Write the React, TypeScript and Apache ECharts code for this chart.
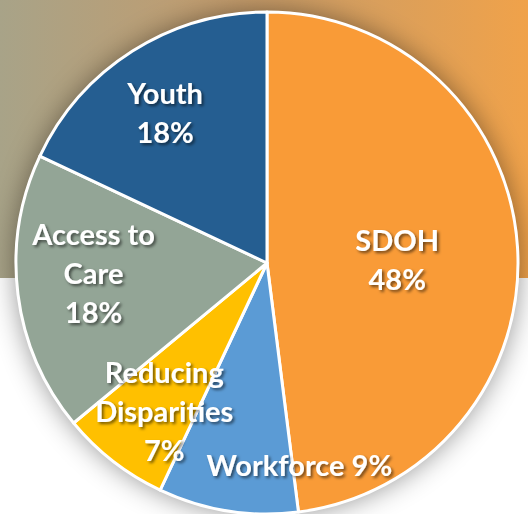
import React, { useEffect, useRef } from "react";
import * as echarts from "echarts";

const categories = ["SDOH", "Workforce", "Reducing\nDisparities", "Access to\nCare", "Youth"];
const values = [48, 9, 7, 18, 18];
const colors = ["#F99B37", "#5B9BD5", "#FFC000", "#93A596", "#255E91"];
const labelOffsets: [number, number][] = [
  [2, 4],
  [52, 78],
  [-24, 46],
  [-46, -7],
  [-33, -43],
];

export default function App() {
  const ref = useRef<HTMLDivElement>(null);
  useEffect(() => {
    if (!ref.current) return;
    const chart = echarts.init(ref.current, null, { renderer: "svg" });
    const cx = 267;
    const cy = 263;
    const r = 251;
    const textStyleBase = {
      fill: "#ffffff",
      fontFamily: "Lato",
      fontWeight: "bold",
      fontSize: 29,
      lineHeight: 39,
      textShadowColor: "rgba(0,0,0,0.55)",
      textShadowBlur: 3,
      textShadowOffsetX: 2,
      textShadowOffsetY: 2,
    };
    // Workforce label drawn as text, positioned from its slice's mid-angle
    let acc = 0;
    for (let i = 0; i < 1; i++) acc += values[i];
    const total = values.reduce((a, b) => a + b, 0);
    const mid = ((acc + values[1] / 2) / total) * Math.PI * 2;
    const wx = cx + (r / 2) * Math.sin(mid) + labelOffsets[1][0];
    const wy = cy - (r / 2) * Math.cos(mid) + labelOffsets[1][1];
    chart.setOption({
      animation: false,
      backgroundColor: "#ffffff",
      graphic: [
        {
          type: "rect",
          z: -10,
          silent: true,
          shape: { x: 0, y: 0, width: 528, height: 278 },
          style: {
            fill: new echarts.graphic.LinearGradient(0, 0, 1, 0, [
              { offset: 0, color: "#a8a388" },
              { offset: 0.45, color: "#c49c6c" },
              { offset: 1, color: "#f0a24a" },
            ]),
          },
        },
        {
          type: "text",
          z: 100,
          silent: true,
          x: wx,
          y: wy,
          style: {
            ...textStyleBase,
            text: categories[1] + " " + values[1] + "%",
            align: "center",
            verticalAlign: "middle",
          },
        },
      ],
      series: [
        {
          type: "pie",
          silent: true,
          z: 1,
          center: [cx, cy],
          radius: r,
          label: { show: false },
          labelLine: { show: false },
          itemStyle: {
            color: "#ffffff",
            shadowBlur: 28,
            shadowColor: "rgba(0,0,0,0.45)",
          },
          data: [{ value: 1, name: "bg" }],
        },
        {
          type: "pie",
          z: 2,
          center: [cx, cy],
          radius: r,
          startAngle: 90,
          clockwise: true,
          avoidLabelOverlap: false,
          itemStyle: { borderColor: "#ffffff", borderWidth: 3 },
          labelLine: { show: false },
          label: {
            show: true,
            position: "inside",
            color: "#ffffff",
            fontFamily: "Lato",
            fontWeight: "bold",
            fontSize: 29,
            lineHeight: 39,
            textShadowColor: "rgba(0,0,0,0.55)",
            textShadowBlur: 3,
            textShadowOffsetX: 2,
            textShadowOffsetY: 2,
          },
          data: categories.map((name, i) => ({
            name,
            value: values[i],
            itemStyle: { color: colors[i] },
            label:
              i === 1
                ? { show: false }
                : {
                    offset: labelOffsets[i],
                    formatter: name + "\n" + values[i] + "%",
                  },
          })),
        },
      ],
    });
    return () => chart.dispose();
  }, []);
  return (
    <div
      ref={ref}
      style={{ position: "fixed", left: 0, top: 0, width: 528, height: 514 }}
    />
  );
}
